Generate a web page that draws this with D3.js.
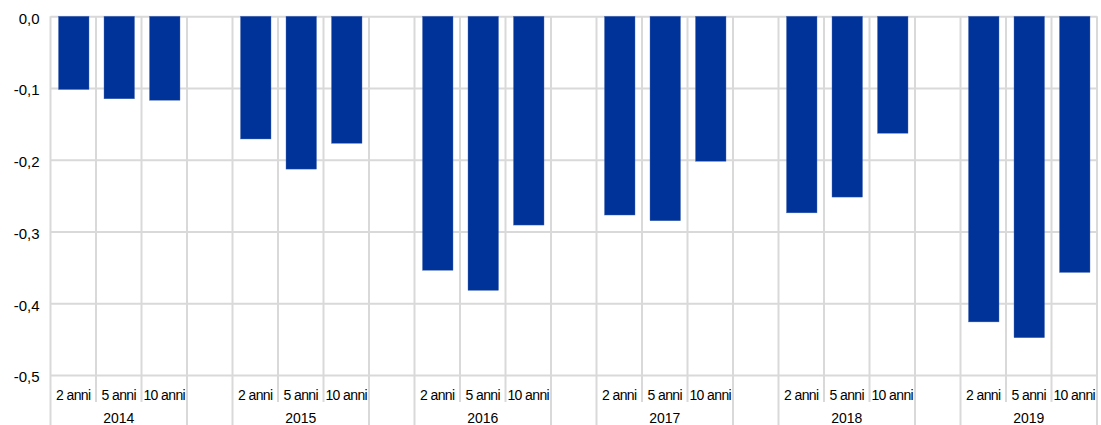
<!DOCTYPE html>
<html>
<head>
<meta charset="utf-8">
<script src="https://cdn.jsdelivr.net/npm/d3@7/dist/d3.min.js"></script>
<style>
  html, body { margin: 0; padding: 0; background: #fff; }
  svg { display: block; font-family: "Liberation Sans", Arial, sans-serif; }
</style>
</head>
<body>
<svg id="chart" width="1101" height="425"></svg>
<script>
// ---- Data ----
const years = ["2014", "2015", "2016", "2017", "2018", "2019"];
const maturities = ["2 anni", "5 anni", "10 anni"];
const values2y  = [-0.102, -0.171, -0.354, -0.277, -0.274, -0.426];
const values5y  = [-0.115, -0.213, -0.382, -0.285, -0.252, -0.448];
const values10y = [-0.117, -0.177, -0.291, -0.202, -0.163, -0.357];
const yTicks = [0, -0.1, -0.2, -0.3, -0.4, -0.5];

const seriesByMaturity = [values2y, values5y, values10y];

// Build slot list: 3 maturity slots per year, plus an empty spacer between years
const slots = [];
years.forEach((yr, i) => {
  maturities.forEach((m, j) => {
    slots.push({ key: yr + "|" + m, year: yr, label: m, value: seriesByMaturity[j][i], spacer: false });
  });
  if (i < years.length - 1) slots.push({ key: "sp" + i, year: null, label: "", value: null, spacer: true });
});

// ---- Layout ----
const plotLeft = 50.5, plotRight = 1097, plotTop = 16.3, plotBottom = 375;
const svg = d3.select("#chart");
const gridColor = "#d9d9d9";
const barColor = "#003399";

const x = d3.scaleBand().domain(slots.map(d => d.key)).range([plotLeft, plotRight]).padding(0);
const y = d3.scaleLinear().domain([0, -0.5]).range([plotTop, plotBottom]);

const locale = d3.formatLocale({ decimal: ",", thousands: ".", grouping: [3], currency: ["", "€"], minus: "-" });
const fmt = locale.format(".1f");

// Horizontal gridlines + y tick labels
const yAxis = d3.axisLeft(y)
  .tickValues(yTicks)
  .tickSizeInner(-(plotRight - plotLeft))
  .tickSizeOuter(0)
  .tickPadding(11)
  .tickFormat(d => fmt(d));
const gy = svg.append("g").attr("transform", `translate(${plotLeft},0)`).call(yAxis);
gy.select(".domain").remove();
gy.selectAll(".tick line").attr("stroke", gridColor).attr("stroke-width", 2);
gy.selectAll(".tick text")
  .attr("font-size", 15)
  .attr("fill", "#000")
  .attr("dy", "0.45em");

// Vertical gridlines at every slot boundary
const bounds = slots.map(d => x(d.key)).concat([plotRight]);
const rowBottom = 402, fullBottom = 425;
const groupBounds = [plotLeft, plotRight];
slots.forEach(d => {
  if (d.spacer) { groupBounds.push(x(d.key)); groupBounds.push(x(d.key) + x.bandwidth()); }
});
svg.append("g").selectAll("line").data(bounds).join("line")
  .attr("x1", d => d).attr("x2", d => d)
  .attr("y1", plotTop)
  .attr("y2", d => groupBounds.some(g => Math.abs(g - d) < 0.5) ? fullBottom : rowBottom)
  .attr("stroke", gridColor).attr("stroke-width", 2);

// Bars
const barW = x.bandwidth() * 0.67;
svg.append("g").selectAll("rect").data(slots.filter(d => !d.spacer)).join("rect")
  .attr("x", d => x(d.key) + (x.bandwidth() - barW) / 2 + 0.5)
  .attr("y", y(0))
  .attr("width", barW)
  .attr("height", d => y(d.value) - y(0))
  .attr("fill", barColor)
  .attr("stroke", "#4a6bb5")
  .attr("stroke-width", 0.4);

// Category labels (maturities)
const xAxis = d3.axisBottom(x)
  .tickSize(0)
  .tickPadding(0)
  .tickFormat(k => slots.find(s => s.key === k).label);
const gx = svg.append("g").attr("transform", `translate(0,${plotBottom})`).call(xAxis);
gx.select(".domain").remove();
gx.selectAll(".tick text")
  .attr("font-size", 14)
  .attr("fill", "#000")
  .attr("letter-spacing", "-0.6px")
  .attr("dy", 0)
  .attr("y", 25);

// Year labels, centred under each group of three slots
svg.append("g").selectAll("text").data(years).join("text")
  .attr("x", yr => {
    const first = x(yr + "|" + maturities[0]);
    const last = x(yr + "|" + maturities[maturities.length - 1]) + x.bandwidth();
    return (first + last) / 2;
  })
  .attr("y", 423)
  .attr("text-anchor", "middle")
  .attr("font-size", 14)
  .attr("fill", "#000")
  .text(yr => yr);
</script>
</body>
</html>
